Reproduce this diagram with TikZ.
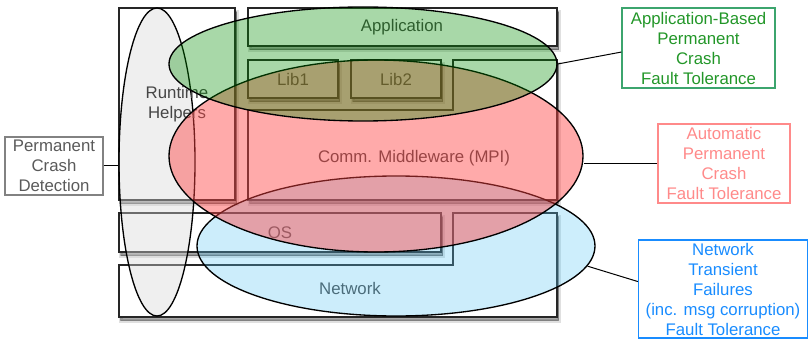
\documentclass[tikz,border=0pt]{standalone}
\usepackage{fontspec}
\setmainfont{Liberation Sans}
\usetikzlibrary{shapes.geometric}

\definecolor{layertext}{RGB}{70,70,70}
\definecolor{greenfill}{RGB}{0,141,0}
\definecolor{redfill}{RGB}{255,67,67}
\definecolor{bluefill}{RGB}{88,198,245}
\definecolor{grayfill}{RGB}{215,215,215}
\definecolor{appgreen}{RGB}{34,150,40}
\definecolor{appframe}{RGB}{60,165,110}
\definecolor{autored}{RGB}{255,138,138}
\definecolor{netblue}{RGB}{25,140,255}
\definecolor{detgray}{RGB}{90,90,90}
\definecolor{detframe}{RGB}{130,130,130}

\tikzset{every picture/.style={line width=0.75pt}}
\tikzset{
  layer/.style={draw=black!85, fill=white, line width=1.1pt,
    preaction={draw=black, fill=black, opacity=0.12, line width=3pt,
      transform canvas={xshift=1.2pt, yshift=-2.8pt}},
    preaction={draw=black, fill=black, opacity=0.25, line width=1pt,
      transform canvas={xshift=1.2pt, yshift=-2.8pt}}},
  layertxt/.style={text=layertext, font=\fontsize{12.6}{15}\selectfont, align=center, inner sep=0pt},
  ftzone/.style={ellipse, draw=black, line width=1pt, inner sep=0pt},
  ftlabel/.style={draw, line width=1pt, align=center, inner sep=0pt,
    font=\fontsize{12.6}{15}\selectfont},
}

\begin{document}
\begin{tikzpicture}[x=0.75pt,y=0.75pt,yscale=-1,xscale=1]
	\useasboundingbox (0,0) rectangle (810,342);

	%Shape: Rectangle
	\draw [layer] (119,8) rectangle (235,200);
	%Shape: Rectangle
	\draw [layer] (248,8) rectangle (557,46);
	%Shape: Polygon
	\draw [layer] (248,110) -- (453,110) -- (453,60) -- (557,60) -- (557,200) -- (248,200) -- cycle;
	%Shape: Rectangle
	\draw [layer] (248,60) rectangle (338,98);
	%Shape: Rectangle
	\draw [layer] (351,60) rectangle (441,98);
	%Shape: Rectangle
	\draw [layer] (119,213) rectangle (441,252);
	%Shape: Polygon
	\draw [layer] (119,265) -- (453,265) -- (453,213) -- (557,213) -- (557,317) -- (119,317) -- cycle;

	%Shape: Ellipse
	\node [ftzone, fill=grayfill, fill opacity=0.4, minimum width=57pt, minimum height=231pt] (ftrt) at (157,162) {};

	% Text Node
	\node [layertxt] (rttxt) at (177,104) {Runtime\\Helpers};
	% Text Node
	\node [layertxt] (apptxt) at (402,27) {Application};
	% Text Node
	\node [layertxt] (lib1txt) at (293,79) {Lib1};
	% Text Node
	\node [layertxt] (lib2txt) at (396,79) {Lib2};
	% Text Node
	\node [layertxt] (mpitxt) at (414,158) {Comm. Middleware (MPI)};
	% Text Node
	\node [layertxt] (ostxt) at (280,233) {OS};
	% Text Node
	\node [layertxt] (nettxt) at (350,288) {Network};

	%Shape: Ellipse
	\node [ftzone, fill=bluefill, fill opacity=0.3, minimum width=298.5pt, minimum height=105pt] (ftnet) at (396,246) {};
	%Shape: Ellipse
	\node [ftzone, fill=redfill, fill opacity=0.45, minimum width=310.5pt, minimum height=144pt] (ftauto) at (376,156) {};
	%Shape: Ellipse
	\node [ftzone, fill=greenfill, fill opacity=0.34, minimum width=291pt, minimum height=85.5pt] (ftapp) at (363,64) {};

	% Text Node
	\node [ftlabel, draw=appframe, text=appgreen, minimum width=114.75pt, minimum height=60pt] (labapp) at (698.5,48) {Application-Based\\Permanent\\Crash\\Fault Tolerance};
	% Text Node
	\node [ftlabel, draw=autored, text=autored, minimum width=99pt, minimum height=59.25pt] (labauto) at (724,163.5) {Automatic\\Permanent\\Crash\\Fault Tolerance};
	% Text Node
	\node [ftlabel, draw=netblue, text=netblue, minimum width=126.75pt, minimum height=73.5pt] (labnet) at (723,289) {Network\\Transient\\Failures\\(inc. msg corruption)\\Fault Tolerance};
	% Text Node
	\node [ftlabel, draw=detframe, text=detgray, minimum width=73.5pt, minimum height=43.5pt] (labdet) at (54,166) {Permanent\\Crash\\Detection};

	%Straight Lines
	\draw (ftapp.east) -- (labapp.183);
	%Straight Lines
	\draw (labauto.west) -- (labauto.west -| ftauto.east);
	%Straight Lines
	\draw (ftnet.-6) -- (labnet.175);
	%Straight Lines
	\draw (labdet.east) -- (labdet.east -| ftrt.west);

\end{tikzpicture}
\end{document}
